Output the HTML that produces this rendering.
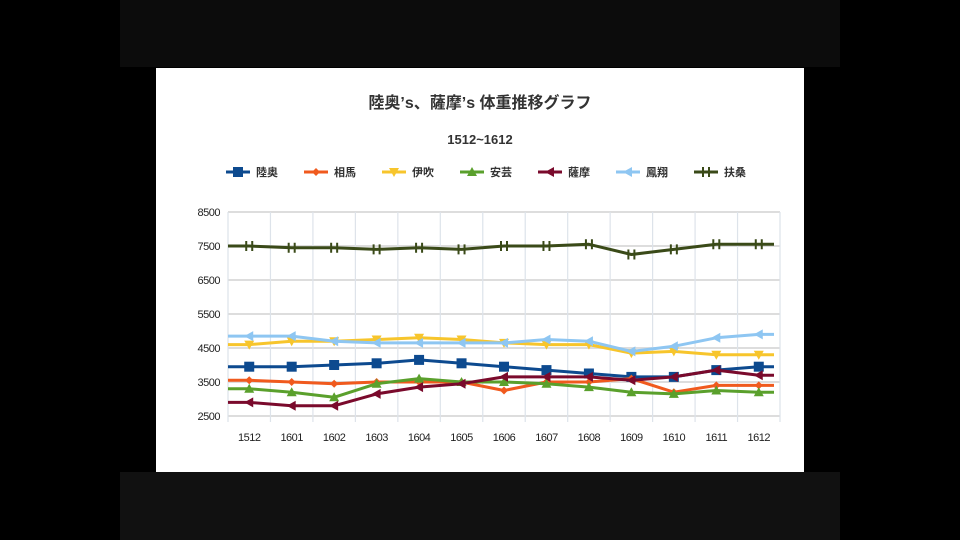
<!DOCTYPE html>
<html><head><meta charset="utf-8">
<style>
html,body{margin:0;padding:0;background:#000;}
body{width:960px;height:540px;position:relative;overflow:hidden;font-family:"Liberation Sans","Noto Sans CJK JP",sans-serif;}
#band-top{position:absolute;left:120px;top:0;width:720px;height:67px;background:#0c0c0c;}
#band-bot{position:absolute;left:120px;top:472px;width:720px;height:68px;background:#111;}
#panel{position:absolute;left:156px;top:68px;width:648px;height:404px;background:#fff;}
</style></head>
<body>
<div id="band-top"></div>
<div id="band-bot"></div>
<div id="panel"></div>
<svg id="chart" width="960" height="540" style="position:absolute;left:0;top:0">
<text x="480" y="108" text-anchor="middle" font-size="16" font-weight="bold" fill="#333">陸奥’s、薩摩’s  体重推移グラフ</text>
<text x="480" y="144" text-anchor="middle" font-size="13" font-weight="bold" fill="#333">1512~1612</text>
<g id="legend"></g>
<g id="grid"></g>
<g id="series"></g>
<g id="axes"></g>
</svg>
<script>
const categories = ["1512","1601","1602","1603","1604","1605","1606","1607","1608","1609","1610","1611","1612"];
const yTicks = [2500,3500,4500,5500,6500,7500,8500];
const seriesNames = ["陸奥","相馬","伊吹","安芸","薩摩","鳳翔","扶桑"];
const seriesColors = ["#0d4a8f","#f05a1e","#f7c52c","#5aa02c","#7a0a2c","#8ec6f2","#3a4a18"];
const mutsu  = [3950,3950,4000,4050,4150,4050,3950,3850,3750,3650,3650,3850,3950];
const souma  = [3550,3500,3450,3500,3500,3500,3250,3500,3500,3600,3200,3400,3400];
const ibuki  = [4600,4700,4700,4750,4800,4750,4650,4600,4600,4350,4400,4300,4300];
const aki    = [3300,3200,3050,3450,3600,3500,3500,3450,3350,3200,3150,3250,3200];
const satsuma= [2900,2800,2800,3150,3350,3450,3650,3650,3650,3550,3650,3850,3700];
const houshou= [4850,4850,4700,4650,4650,4650,4650,4750,4700,4400,4550,4800,4900];
const fusou  = [7500,7450,7450,7400,7450,7400,7500,7500,7550,7250,7400,7550,7550];
const allSeries = [mutsu,souma,ibuki,aki,satsuma,houshou,fusou];
const markers = ["square","diamond","tridown","triup","arrow","arrow","x"];

const NS="http://www.w3.org/2000/svg";
const L=228,R=780,T=212,B=416,yMin=2500,yMax=8500;
const bw=(R-L)/categories.length;
const xs=i=>L+bw*(i+0.5);
const ys=v=>B-(v-yMin)/(yMax-yMin)*(B-T);
function mk(tag,attrs,parent){const e=document.createElementNS(NS,tag);for(const k in attrs)e.setAttribute(k,attrs[k]);parent.appendChild(e);return e;}
const grid=document.getElementById('grid'),ser=document.getElementById('series'),axes=document.getElementById('axes'),leg=document.getElementById('legend');
yTicks.forEach(t=>{
  const l=mk('line',{x1:L,x2:R,y1:ys(t),y2:ys(t),stroke:'#ddd','stroke-width':2},grid);
  
  
  const tx=mk('text',{x:L-8,y:ys(t)+4,'text-anchor':'end','font-size':11,fill:'#222','letter-spacing':'-0.5'},axes);
  tx.textContent=t;
  
  
});
for(let i=0;i<=categories.length;i++){
  const l=mk('line',{x1:L+bw*i,x2:L+bw*i,y1:T,y2:B+6,stroke:'#dde3ea','stroke-width':1.2},grid);
  
  
}
categories.forEach((c,i)=>{
  const tx=mk('text',{x:xs(i),y:441,'text-anchor':'middle','font-size':11,fill:'#222','letter-spacing':'-0.5'},axes);
  tx.textContent=c;
  
  
});
function marker(type,x,y,color,parent){
  let e;
  if(type==='square') e=mk('rect',{x:x-5,y:y-5,width:10,height:10,fill:color},parent);
  else if(type==='diamond') e=mk('polygon',{points:`${x},${y-4} ${x+4},${y} ${x},${y+4} ${x-4},${y}`,fill:color},parent);
  else if(type==='tridown') e=mk('polygon',{points:`${x-5},${y-4} ${x+5},${y-4} ${x},${y+5}`,fill:color},parent);
  else if(type==='triup') e=mk('polygon',{points:`${x-5},${y+4} ${x+5},${y+4} ${x},${y-5}`,fill:color},parent);
  else if(type==='arrow') e=mk('polygon',{points:`${x-5},${y} ${x+4},${y-5} ${x+4},${y+5}`,fill:color},parent);
  else e=mk('path',{d:`M${x-3},${y-5}V${y+5}M${x+3},${y-5}V${y+5}`,stroke:color,'stroke-width':2},parent);
  return e;
}
allSeries.forEach((vals,si)=>{
  const c=seriesColors[si];
  let pts=[[L,ys(vals[0])]];
  vals.forEach((v,i)=>pts.push([xs(i),ys(v)]));
  pts.push([R-6,ys(vals[vals.length-1])]);
  const pl=mk('polyline',{points:pts.map(p=>p.join(',')).join(' '),fill:'none',stroke:c,'stroke-width':3,'stroke-linejoin':'round'},ser);
  
  
  vals.forEach((v,i)=>{
    const m=marker(markers[si],xs(i),ys(v),c,ser);
    
    
  });
  const lx=226+si*78,ly=172;
  const ll=mk('line',{x1:lx,x2:lx+24,y1:ly,y2:ly,stroke:c,'stroke-width':3},leg);
  
  
  const lm=marker(markers[si],lx+12,ly,c,leg);
  
  
  const lt=mk('text',{x:lx+30,y:ly+4,'font-size':11,'font-weight':'bold',fill:'#333'},leg);
  lt.textContent=seriesNames[si];
  
  
});
</script>
</body></html>
